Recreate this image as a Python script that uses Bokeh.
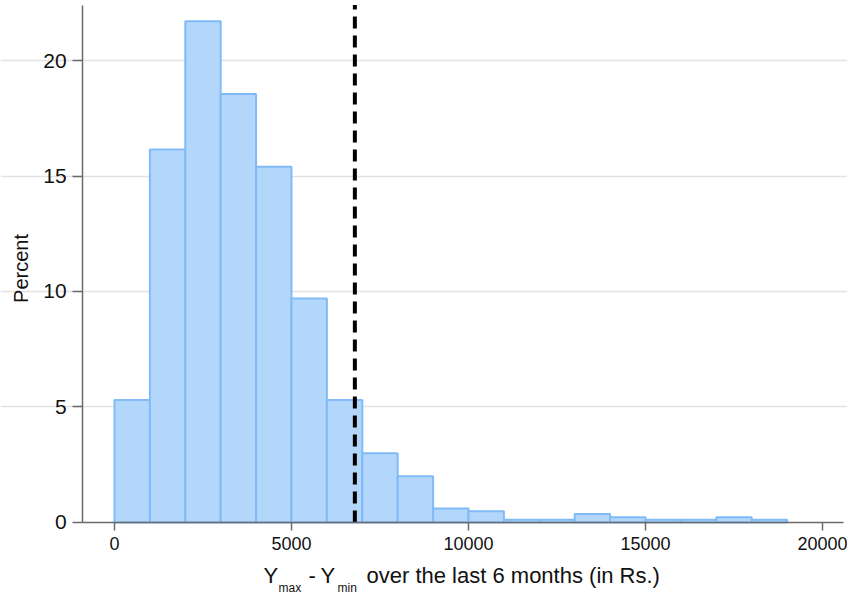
import math
from bokeh.plotting import figure
from bokeh.models import Range1d, FixedTicker, Label, ColumnDataSource
from bokeh.embed import file_html
from bokeh.resources import INLINE

# ---- data ----
bin_left = [0, 1000, 2000, 3000, 4000, 5000, 6000, 7000, 8000, 9000,
            10000, 11000, 12000, 13000, 14000, 15000, 16000, 17000, 18000]
bin_width = 1000
percent = [5.3, 16.15, 21.7, 18.55, 15.4, 9.7, 5.3, 3.0, 2.0, 0.6,
           0.48, 0.12, 0.12, 0.37, 0.23, 0.12, 0.12, 0.23, 0.12]
mean_value = 6790
x_ticks = [0, 5000, 10000, 15000, 20000]
y_ticks = [0, 5, 10, 15, 20]
y_label = "Percent"
x_label_parts = ["Y", "max", "-", "Y", "min", "over the last 6 months (in Rs.)"]

FONT = "Liberation Sans"
X_AXIS_START, X_AXIS_END = -900, 20600   # plot-area extent in x
X_START, X_END = -3220, 20706            # canvas extent (room for y texts)
Y_TOP = 22.4                             # plot-area top
Y_START, Y_END = -3.12, 22.6             # canvas extent (room for x texts)

src = ColumnDataSource(dict(
    left=bin_left,
    right=[b + bin_width for b in bin_left],
    top=percent,
    bottom=[0] * len(percent),
))

p = figure(width=847, height=594, output_backend="svg", toolbar_location=None,
           x_range=Range1d(X_START, X_END), y_range=Range1d(Y_START, Y_END),
           min_border=0)
p.outline_line_color = None
p.background_fill_color = "white"

# grid (only inside the plot area)
p.xgrid.grid_line_color = None
p.ygrid.ticker = FixedTicker(ticks=y_ticks[1:])
p.ygrid.grid_line_color = "#e3e3e3"
p.ygrid.grid_line_width = 1.5
p.ygrid.bounds = (X_AXIS_START, X_AXIS_END)

p.quad(left="left", right="right", top="top", bottom="bottom", source=src,
       fill_color="#b3d6fb", fill_alpha=1.0, line_color="#80bbf7", line_width=2)

# mean line from the baseline to the top of the plot
p.segment(x0=[mean_value], y0=[0], x1=[mean_value], y1=[Y_TOP],
          line_color="black", line_width=4, line_dash="12 7")

# axes, fixed inside the canvas
for ax in (p.xaxis[0], p.yaxis[0]):
    ax.axis_line_color = "#6b6b6b"
    ax.axis_line_width = 1.5
    ax.major_tick_line_color = "#6b6b6b"
    ax.major_tick_line_width = 1.5
    ax.major_tick_in = 0
    ax.minor_tick_line_color = None
    ax.major_label_text_font = FONT
    ax.major_label_text_color = "#111111"

p.xaxis[0].fixed_location = 0
p.xaxis[0].bounds = (X_AXIS_START, X_AXIS_END)
p.xaxis[0].ticker = FixedTicker(ticks=x_ticks)
p.xaxis[0].major_tick_out = 8
p.xaxis[0].major_label_standoff = 7
p.xaxis[0].major_label_text_font_size = "18px"

p.yaxis[0].fixed_location = X_AXIS_START
p.yaxis[0].bounds = (0, Y_TOP)
p.yaxis[0].ticker = FixedTicker(ticks=y_ticks)
p.yaxis[0].major_tick_out = 10
p.yaxis[0].major_label_standoff = 6
p.yaxis[0].major_label_text_font_size = "21px"
p.yaxis[0].major_label_orientation = "horizontal"

# y title
p.add_layout(Label(x=20, y=326, x_units="screen", y_units="screen", text=y_label,
                   angle=math.pi / 2, text_font=FONT, text_font_size="20px",
                   text_color="#111111", text_align="center",
                   text_baseline="middle"))

# x title built from pieces (with subscripts)
main_fs, sub_fs = "22px", "12px"
base_main, base_sub = 19, 7
xs = [263, 278, 308, 320, 337, 366]
sizes = [main_fs, sub_fs, main_fs, main_fs, sub_fs, main_fs]
ys = [base_main, base_sub, base_main, base_main, base_sub, base_main]
for txt, xx, yy, fs in zip(x_label_parts, xs, ys, sizes):
    p.add_layout(Label(x=xx, y=yy, x_units="screen", y_units="screen", text=txt,
                       text_font=FONT, text_font_size=fs, text_color="#111111",
                       text_align="left", text_baseline="alphabetic"))

open("out.html", "w").write(file_html(p, INLINE))
